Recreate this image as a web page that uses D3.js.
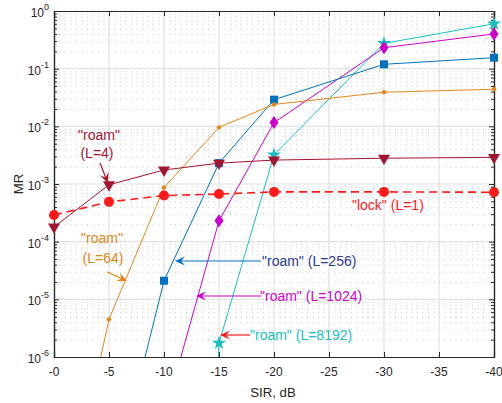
<!DOCTYPE html>
<html><head><meta charset="utf-8">
<script src="https://cdn.jsdelivr.net/npm/d3@7"></script>
<style>
html,body{margin:0;padding:0;background:#fff;}
svg{display:block;font-family:"Liberation Sans",Arial,sans-serif;}
</style></head>
<body><svg id="c" width="502" height="403"></svg>
<script>
// ---- data ----
const sir = [0, -5, -10, -15, -20, -30, -40];
const xTicks = [0, -5, -10, -15, -20, -25, -30, -35, -40];
const xTickLabels = ["-0", "-5", "-10", "-15", "-20", "-25", "-30", "-35", "-40"];
const yTicks = [1, 1e-1, 1e-2, 1e-3, 1e-4, 1e-5, 1e-6];
const yTickExp = ["0", "-1", "-2", "-3", "-4", "-5", "-6"];
const lockL1 = [2.9e-4, 4.9e-4, 6.3e-4, 6.7e-4, 7.3e-4, 7.3e-4, 7.2e-4];
const roamL4 = [1.8e-4, 9.7e-4, 1.75e-3, 2.3e-3, 2.6e-3, 2.8e-3, 2.9e-3];
const roamL64 = [2e-10, 4.5e-6, 8.7e-4, 9.6e-3, 2.4e-2, 3.9e-2, 4.4e-2];
const roamL256 = [null, 3e-9, 2.1e-5, 2.3e-3, 2.9e-2, 0.119, 0.155];
const roamL1024 = [null, null, 9e-8, 2.3e-4, 1.16e-2, 0.231, 0.40];
const roamL8192 = [null, null, 1e-30, 1.74e-6, 3.2e-3, 0.275, 0.6];

const svg = d3.select("#c");
const L = 54, R = 494, T = 11, B = 357;
const x = d3.scaleLinear().domain([0, -40]).range([L, R]);
const y = d3.scaleLog().domain([1e-6, 1]).range([B, T]);
const axCol = "#262626";

// grid
const g = svg.append("g");
const minor = [];
for (let e = -6; e < 0; e++) for (let k = 2; k <= 9; k++) minor.push(k * Math.pow(10, e));
g.selectAll(".mg").data(minor).enter().append("line")
  .attr("x1", L).attr("x2", R).attr("y1", d => y(d) + 0.5).attr("y2", d => y(d) + 0.5)
  .attr("stroke", "#c8c8c8").attr("stroke-width", 1).attr("stroke-dasharray", "1,4.5");
g.selectAll(".gx").data(xTicks.slice(1, -1)).enter().append("line")
  .attr("x1", d => x(d)).attr("x2", d => x(d)).attr("y1", T).attr("y2", B)
  .attr("stroke", "#e2e2e2").attr("stroke-width", 1.2);
g.selectAll(".gy").data(yTicks.slice(1, -1)).enter().append("line")
  .attr("x1", L).attr("x2", R).attr("y1", d => y(d)).attr("y2", d => y(d))
  .attr("stroke", "#e2e2e2").attr("stroke-width", 1.2);

// axes
const fmtNone = () => "";
svg.append("g").attr("transform", `translate(0,${B})`)
  .call(d3.axisBottom(x).tickValues(xTicks).tickSize(-5).tickFormat(fmtNone));
svg.append("g").attr("transform", `translate(0,${T})`)
  .call(d3.axisTop(x).tickValues(xTicks).tickSize(-5).tickFormat(fmtNone));
svg.append("g").attr("transform", `translate(${L},0)`)
  .call(d3.axisLeft(y).tickValues(minor).tickSize(-3).tickFormat(fmtNone));
svg.append("g").attr("transform", `translate(${R},0)`)
  .call(d3.axisRight(y).tickValues(minor).tickSize(-3).tickFormat(fmtNone));
svg.append("g").attr("transform", `translate(${L},0)`)
  .call(d3.axisLeft(y).tickValues(yTicks).tickSize(-5).tickFormat(fmtNone));
svg.append("g").attr("transform", `translate(${R},0)`)
  .call(d3.axisRight(y).tickValues(yTicks).tickSize(-5).tickFormat(fmtNone));
svg.selectAll(".domain").attr("stroke", axCol).attr("stroke-width", 1.2);
svg.selectAll(".tick line").attr("stroke", axCol);

// tick labels
svg.selectAll(".xl").data(xTicks).enter().append("text")
  .attr("x", d => x(d)).attr("y", 376).attr("text-anchor", "middle")
  .attr("font-size", 12).attr("fill", axCol).text((d, i) => xTickLabels[i]);
const yl = svg.selectAll(".yl").data(yTicks).enter().append("text")
  .attr("x", 49).attr("y", d => y(d) + 6).attr("text-anchor", "end")
  .attr("font-size", 12).attr("fill", axCol);
yl.append("tspan").text("10");
yl.append("tspan").attr("dy", -7).attr("font-size", 9).text((d, i) => yTickExp[i]);

svg.append("text").attr("x", 273).attr("y", 397).attr("text-anchor", "middle")
  .attr("font-size", 13.2).attr("fill", axCol).text("SIR, dB");
svg.append("text").attr("transform", "translate(23,184) rotate(-90)").attr("text-anchor", "middle")
  .attr("font-size", 13.2).attr("fill", axCol).text("MR");

// clip
svg.append("clipPath").attr("id", "clip").append("rect")
  .attr("x", L).attr("y", T).attr("width", R - L).attr("height", B - T);

const series = [
  {v: roamL8192, c: "#19BFBF", m: "star", w: 1},
  {v: roamL1024, c: "#CC00CC", m: "diamond", w: 1},
  {v: roamL256, c: "#0072BD", m: "square", w: 1},
  {v: roamL64, c: "#E0861A", m: "dot", w: 1},
  {v: roamL4, c: "#A2142F", m: "tri", w: 1},
  {v: lockL1, c: "#FF1A1A", m: "circle", w: 1.6, dash: "8,5"}
];
const line = d3.line().defined(d => d[1] != null).x(d => x(d[0])).y(d => y(d[1]));
const sym = {
  star: d3.symbol(d3.symbolStar, 60),
  tri: d3.symbol(d3.symbolTriangle, 62),
  square: d3.symbol(d3.symbolSquare, 64)
};
series.forEach(s => {
  const pts = sir.map((xv, i) => [xv, s.v[i]]);
  const sg = svg.append("g");
  sg.append("path").datum(pts).attr("clip-path", "url(#clip)")
    .attr("d", line).attr("fill", "none").attr("stroke", s.c)
    .attr("stroke-width", s.w).attr("stroke-dasharray", s.dash || null);
  const vis = pts.filter(p => p[1] != null && p[1] >= 1e-6);
  const mk = sg.selectAll(".m").data(vis).enter();
  if (s.m === "circle") {
    mk.append("circle").attr("cx", d => x(d[0])).attr("cy", d => y(d[1])).attr("r", 5).attr("fill", s.c);
  } else if (s.m === "dot") {
    mk.append("circle").attr("cx", d => x(d[0])).attr("cy", d => y(d[1])).attr("r", 2.2).attr("fill", s.c);
  } else if (s.m === "diamond") {
    mk.append("path").attr("transform", d => `translate(${x(d[0])},${y(d[1])})`)
      .attr("d", "M0,-6.5L4.5,0L0,6.5L-4.5,0Z").attr("fill", s.c);
  } else if (s.m === "tri") {
    mk.append("path").attr("transform", d => `translate(${x(d[0])},${y(d[1])}) rotate(180)`)
      .attr("d", sym.tri()).attr("fill", s.c);
  } else {
    mk.append("path").attr("transform", d => `translate(${x(d[0])},${y(d[1])})${s.m === "star" ? " rotate(0)" : ""}`)
      .attr("d", sym[s.m]()).attr("fill", s.c);
  }
});

// annotations
function arrow(x1, y1, x2, y2, c) {
  const a = Math.atan2(y2 - y1, x2 - x1);
  const hl = 10, hw = 4.5, notch = 6;
  const bx = x2 - notch * Math.cos(a), by = y2 - notch * Math.sin(a);
  svg.append("line").attr("x1", x1).attr("y1", y1).attr("x2", bx).attr("y2", by)
    .attr("stroke", c).attr("stroke-width", 1.2);
  const p = (l, w) => [x2 - l * Math.cos(a) - w * Math.sin(a), y2 - l * Math.sin(a) + w * Math.cos(a)];
  const pts = [[x2, y2], p(hl, hw), p(notch, 0), p(hl, -hw)];
  svg.append("path").attr("d", "M" + pts.map(q => q.join(",")).join("L") + "Z").attr("fill", c);
}
function label(tx, ty, txt, c, anchor) {
  svg.append("text").attr("x", tx).attr("y", ty).attr("font-size", 14)
    .attr("text-anchor", anchor || "start").attr("fill", c).text(txt);
}
label(99, 140, "\"roam\"", "#A2142F", "middle");
label(97, 158, "(L=4)", "#A2142F", "middle");
arrow(100, 163, 108, 183, "#A2142F");
label(102, 243, "\"roam\"", "#E0861A", "middle");
label(103, 263, "(L=64)", "#E0861A", "middle");
arrow(107, 272, 127, 281, "#E0861A");
label(352, 210, "\"lock\" (L=1)", "#FF1A1A");
arrow(261, 261, 175, 261, "#0072BD");
label(262, 266, "\"roam\" (L=256)", "#2B3990");
arrow(261, 296, 196, 296, "#CC00CC");
label(260, 301, "\"roam\" (L=1024)", "#CC00CC");
arrow(250, 335, 220, 335, "#FF1A1A");
label(250, 340, "\"roam\" (L=8192)", "#19BFBF");
</script></body></html>
